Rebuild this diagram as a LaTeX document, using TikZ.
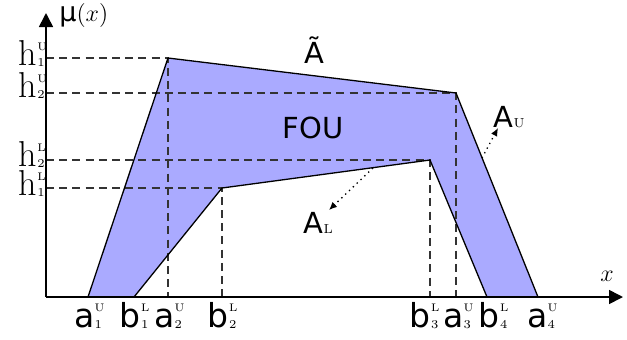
\documentclass[tikz,border=0pt]{standalone}
\usepackage{fontspec}
\newfontfamily\dv{DejaVu Sans}
\usetikzlibrary{arrows.meta}
\definecolor{foucol}{RGB}{170,170,255}
\newcommand\supsub[3]{\rlap{\raisebox{#3}{\fontsize{5.5}{5.5}\selectfont #1}}\raisebox{-0.5pt}{\fontsize{6}{6}\selectfont #2}}
\newcommand\botlab[3]{{\fontsize{16.5}{18}\dv #1}\kern0.2pt\supsub{#2}{#3}{7.8pt}}
\newcommand\hlab[2]{{\fontsize{18}{19}\selectfont h}\kern0.1pt\supsub{#1}{#2}{7.3pt}}
\tikzset{
  mfline/.style={line width=0.65pt, line join=round},
  guide/.style={line width=0.6pt, black!80, dash pattern=on 4pt off 2.6pt},
  axis/.style={line width=0.8pt, -{Triangle[length=7pt,width=7pt]}},
  ptr/.style={line width=0.65pt, dotted, -{Latex[length=4pt,width=3.5pt]}},
  sans/.style={font=\fontsize{14.5}{16}\dv, inner sep=0pt},
  lab/.style={inner sep=0pt, anchor=base}
}
\begin{document}
\begin{tikzpicture}[x=0.5pt,y=-0.5pt]
\useasboundingbox (0,0) rectangle (627,339);
% vertices
\coordinate (o) at (46,297);
\coordinate (a1) at (88,297);
\coordinate (a2) at (168,58);
\coordinate (a3) at (456,93);
\coordinate (a4) at (538,297);
\coordinate (b1) at (134,297);
\coordinate (b2) at (222,188);
\coordinate (b3) at (430,160);
\coordinate (b4) at (487,297);
\coordinate (yend) at (46,13);
\coordinate (xend) at (623,297);
% FOU region
\fill[foucol] (a1) -- (a2) -- (a3) -- (a4) -- (b4) -- (b3) -- (b2) -- (b1) -- cycle;
% guide lines
\draw[guide] (o |- a2) -- (a2) -- (a2 |- o);
\draw[guide] (o |- a3) -- (a3) -- (a3 |- o);
\draw[guide] (o |- b3) -- (b3) -- (b3 |- o);
\draw[guide] (o |- b2) -- (b2) -- (b2 |- o);
% membership functions
\draw[mfline] (a1) -- (a2) -- (a3) -- (a4);
\draw[mfline] (b1) -- (b2) -- (b3) -- (b4);
% axes
\draw[axis] (o) -- (yend);
\draw[axis] (o) -- (xend);
% axis labels
\node[lab, anchor=base west] (mu) at (59,21) {{\fontsize{13.5}{14}\dv μ}{\fontsize{11.5}{12}\selectfont$(x)$}};
\node[lab] (xl) at (607,281) {\fontsize{11.5}{12}\selectfont$x$};
% h labels
\node[lab, anchor=base east] (h1u) at (45,65) {\hlab{U}{1}};
\node[lab, anchor=base east] (h2u) at (45,97) {\hlab{U}{2}};
\node[lab, anchor=base east] (h2l) at (45,166) {\hlab{L}{2}};
\node[lab, anchor=base east] (h1l) at (45,195) {\hlab{L}{1}};
% bottom labels
\node[lab] (la1) at (88,327) {\botlab{a}{U}{1}};
\node[lab] (lb1) at (134,327) {\botlab{b}{L}{1}};
\node[lab] (la2) at (168,327) {\botlab{a}{U}{2}};
\node[lab] (lb2) at (222,327) {\botlab{b}{L}{2}};
\node[lab] (lb3) at (424,327) {\botlab{b}{L}{3}};
\node[lab] (la3) at (457,327) {\botlab{a}{U}{3}};
\node[lab] (lb4) at (493,327) {\botlab{b}{L}{4}};
\node[lab] (la4) at (541,327) {\botlab{a}{U}{4}};
% region labels
\node[sans, anchor=base] (at) at (314,63) {Ã};
\node[sans, anchor=base] (fou) at (313,138) {FOU};
\node[sans, anchor=base west] (au) at (493,127) {A\kern0.2pt{\rmfamily\fontsize{6.5}{6.5}\selectfont U}};
\node[sans, anchor=base west] (al) at (303,233) {A\kern0.2pt{\rmfamily\fontsize{6.5}{6.5}\selectfont L}};
% pointers
\coordinate (pu) at (482,158);
\coordinate (tu) at (498,128);
\coordinate (pl) at (373,168);
\coordinate (tl) at (329,210);
\draw[ptr] (pu) -- (tu);
\draw[ptr] (pl) -- (tl);
\end{tikzpicture}
\end{document}
